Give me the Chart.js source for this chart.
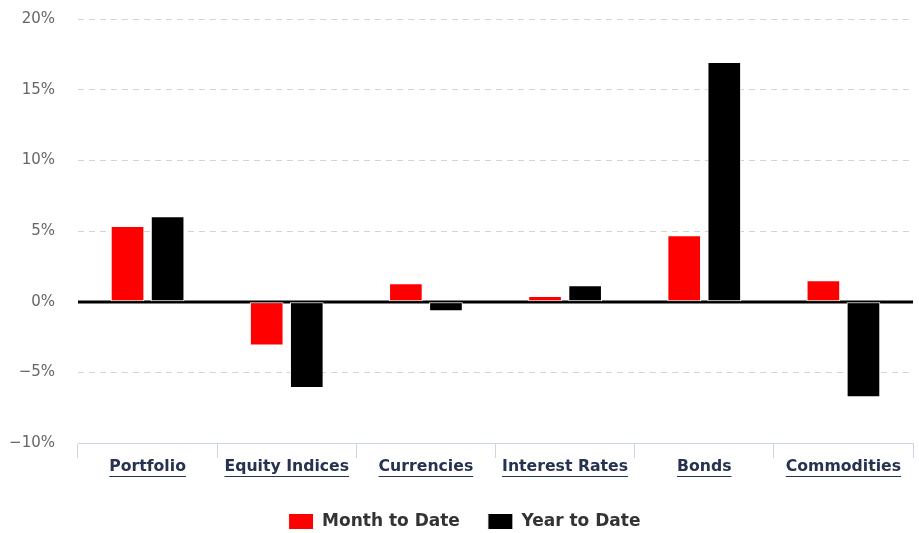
<!DOCTYPE html>
<html>
<head>
<meta charset="utf-8">
<script src="https://cdn.jsdelivr.net/npm/chart.js@4"></script>
<style>
  html, body { margin: 0; padding: 0; background: #fff; }
  #wrap { width: 919px; height: 533px; }
</style>
</head>
<body>
<div id="wrap"><canvas id="myChart"></canvas></div>
<script>
const categories = ['Portfolio', 'Equity Indices', 'Currencies', 'Interest Rates', 'Bonds', 'Commodities'];
const monthToDate = [5.35, -3.1, 1.3, 0.4, 4.7, 1.52];
const yearToDate = [6.05, -6.1, -0.67, 1.17, 16.96, -6.76];
const yTicks = [-10, -5, 0, 5, 10, 15, 20];

const FONT = '"DejaVu Sans", Verdana, sans-serif';
const XSIZE = 15.7;

// thick black line at 0, drawn under the bars (bars have white borders)
const zeroLine = {
  id: 'zeroLine',
  beforeDatasetsDraw(chart) {
    const {ctx, chartArea, scales} = chart;
    const y = Math.round(scales.y.getPixelForValue(0));
    ctx.save();
    ctx.strokeStyle = '#000';
    ctx.lineWidth = 3;
    ctx.beginPath();
    ctx.moveTo(chartArea.left, y);
    ctx.lineTo(chartArea.right, y);
    ctx.stroke();
    ctx.restore();
  }
};

// underline the category labels like links
const underline = {
  id: 'underline',
  afterDraw(chart) {
    const {ctx, scales} = chart;
    const xs = scales.x;
    ctx.save();
    ctx.font = 'bold ' + XSIZE + 'px ' + FONT;
    ctx.strokeStyle = '#253250';
    ctx.lineWidth = 1;
    categories.forEach((c, i) => {
      const x = xs.getPixelForTick(i);
      const w = ctx.measureText(c).width;
      const y = xs.top + 33.5;
      ctx.beginPath();
      ctx.moveTo(x - w / 2, y);
      ctx.lineTo(x + w / 2, y);
      ctx.stroke();
    });
    ctx.restore();
  }
};

// legend padding also spaces the items; keep its box short so it sits near the bottom
const legendHeight = {
  id: 'legendHeight',
  beforeLayout(chart) {
    const lg = chart.legend;
    if (lg && !lg._short) {
      const fit = lg.fit.bind(lg);
      lg.fit = function () { fit(); this.height = 48; };
      lg._short = true;
    }
  },
  afterLayout(chart) {
    // centre the legend a little to the right, like the original
    chart.legend.left += 8;
    chart.legend.right += 8;
  }
};

const cfg = {
  type: 'bar',
  data: {
    labels: categories,
    datasets: [{
      label: 'Month to Date',
      data: monthToDate,
      backgroundColor: '#ff0000',
      borderColor: '#ffffff',
      borderWidth: 1,
      borderSkipped: false,
      barPercentage: 0.84,
      categoryPercentage: 0.576
    }, {
      label: 'Year to Date',
      data: yearToDate,
      backgroundColor: '#000000',
      borderColor: '#ffffff',
      borderWidth: 1,
      borderSkipped: false,
      barPercentage: 0.84,
      categoryPercentage: 0.576
    }]
  },
  options: {
    responsive: true,
    maintainAspectRatio: false,
    animation: false,
    layout: {
      padding: {top: 19, right: 6, left: 0, bottom: 0}
    },
    scales: {
      y: {
        min: -10,
        max: 20,
        afterFit(s) { s.width = 78; s.paddingTop = 0; s.paddingBottom = 0; },
        afterBuildTicks(s) { s.ticks = yTicks.map(v => ({value: v})); },
        border: {display: false, dash: [6, 5]},
        grid: {
          drawTicks: false,
          color: c => (c.tick && c.tick.value === 0) || c.index === 0 ? 'rgba(0,0,0,0)' : '#d4d4d4',
          lineWidth: 1
        },
        ticks: {
          padding: 23,
          color: '#666666',
          font: {family: FONT, size: 15},
          callback: v => (v < 0 ? '\u2212' + Math.abs(v) : v) + '%'
        }
      },
      x: {
        afterFit(s) { s.height = 42; },
        border: {display: true, color: '#ccd6eb', width: 1},
        grid: {
          offset: true,
          drawOnChartArea: false,
          drawTicks: true,
          tickLength: 15,
          color: '#ccd6eb'
        },
        ticks: {
          padding: 0,
          color: '#253250',
          font: {family: FONT, size: XSIZE, weight: 'bold'}
        }
      }
    },
    plugins: {
      tooltip: {enabled: false},
      legend: {
        position: 'bottom',
        labels: {
          boxWidth: 25,
          boxHeight: 16,
          padding: 28,
          color: '#333333',
          font: {family: FONT, size: 17, weight: 'bold'}
        }
      }
    }
  },
  plugins: [zeroLine, underline, legendHeight]
};

new Chart(document.getElementById('myChart'), cfg);
</script>
</body>
</html>
